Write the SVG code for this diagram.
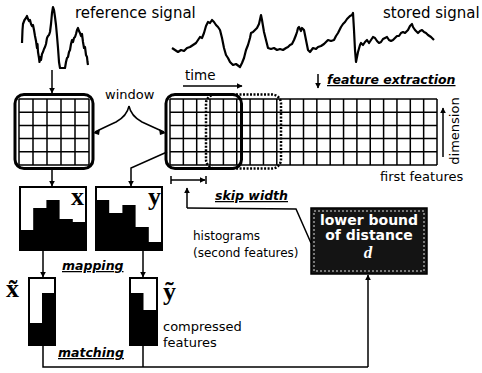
<svg xmlns="http://www.w3.org/2000/svg" width="482" height="373" viewBox="0 0 482 373">
<defs>
<marker id="ah" viewBox="0 0 10 10" refX="9" refY="5" markerWidth="6" markerHeight="6" markerUnits="userSpaceOnUse" orient="auto"><path d="M0,0 L10,5 L0,10 z" fill="#000"/></marker>
<style>
.t{font-family:"DejaVu Sans",Verdana,sans-serif;fill:#000}
.b{font-family:"DejaVu Sans",Verdana,sans-serif;font-weight:bold;font-style:italic;font-size:12.5px;text-decoration:underline;fill:#000}
.ln{fill:none;stroke:#000;stroke-width:1.5}
.ar{fill:none;stroke:#000;stroke-width:1.5;marker-end:url(#ah)}
.sig{fill:none;stroke:#000;stroke-width:2.2;stroke-linejoin:round}
.grid{fill:none;stroke:#000;stroke-width:1.5}
.win{fill:none;stroke:#000;stroke-width:3}
.box{fill:#fff;stroke:#000;stroke-width:2}
.blk{fill:#000}
.let{font-family:"Liberation Serif","Times New Roman",serif;font-weight:bold;fill:#000}
.wt{font-family:"DejaVu Sans",Verdana,sans-serif;font-weight:bold;fill:#fff}
</style>
</defs>
<rect width="482" height="373" fill="#fff"/>

<g id="reference-signal">
<path class="sig" d="M22,43 L22.5,30 23,24 24.5,20 26,18 27,16 28,19 29,21 30,20 31,24 32,26 33,25 34,30 35,36 36,41 37,48 37.5,44 38,52 39,58 39.5,62 40,57 41,60 42,54 43,52 44,49 45,47 46,44 47,38 48,36 49,35 50,32 51,24 52,13 53,7 54,10 55,17 56,25 57,36 58,48 58.5,55 59,62 60,68 62,68 65,68 66,62 67,58 68,57 69,52 70,50 71,44 72,40 73,42 74,38 75,37 76,34 77,30 78,28 79,31 80,33 81,36 82,34 83,42 84,48 85,47 86,55 87,57 87.5,62 88,65"/>
<text class="t" x="75" y="18" font-size="15">reference signal</text>
</g>

<g id="stored-signal">
<path class="sig" d="M172,48 L175,50 178,52 181,50 184,51 187,48 190,47 193,45 196,43 198,40 200,37 202,38 204,33 206,26 208,22 210,23 212,20 214,22 216,25 218,27 220,30 222,38 224,48 226,55 228,58 230,62 233,65 236,64 240,67 242,63 244,58 246,50 248,45 250,38 251,33 253,32 255,30 257,28 259,24 261,15 262,20 264,32 266,40 268,48 271,49 274,48 277,50 280,49 283,50 286,48 288,47 290,45 292,44 294,40 296,35 297,32 298,28 299,27 301,31 302,28 304,30 306,40 308,50 310,52 313,48 316,49 318,47 321,46 324,44 326,42 328,40 331,41 334,40 336,36 338,33 340,29 341,27 343,24 345,22 347,19 348,18 350,16 352,15 353,13 354,30 355,50 356,62 358,52 360,45 361,43 363,45 365,42 367,40 369,43 371,40 373,37 375,38 377,41 379,43 381,42 383,39 385,38 387,37 389,40 391,41 393,40 395,38 397,36 399,36 401,33 403,32 405,33 407,31 408,30 410,26 412,24 413,27 415,30 417,32 418,33 420,31 422,30 424,32 426,33 428,35 431,37 434,40"/>
<text class="t" x="383" y="18" font-size="15">stored signal</text>
</g>

<g id="left-window">
<path class="grid" d="M19,99 H89 M19,112.2 H89 M19,125.4 H89 M19,138.6 H89 M19,151.8 H89 M19,165 H89 M19,99 V165 M33,99 V165 M47,99 V165 M61,99 V165 M75,99 V165 M89,99 V165"/>
<rect class="win" x="15" y="94.5" width="78" height="74" rx="9"/>
</g>

<g id="first-features">
<path class="grid" d="M170,99 H437 M170,112.2 H437 M170,125.4 H437 M170,138.6 H437 M170,151.8 H437 M170,165 H437 M170,99 V165 M183.35,99 V165 M196.7,99 V165 M210.05,99 V165 M223.4,99 V165 M236.75,99 V165 M250.1,99 V165 M263.45,99 V165 M276.8,99 V165 M290.15,99 V165 M303.5,99 V165 M316.85,99 V165 M330.2,99 V165 M343.55,99 V165 M356.9,99 V165 M370.25,99 V165 M383.6,99 V165 M396.95,99 V165 M410.3,99 V165 M423.65,99 V165 M437,99 V165"/>
<rect class="win" x="166" y="94.5" width="75.5" height="74" rx="9"/>
<rect x="206" y="94.5" width="75" height="74" rx="9" fill="none" stroke="#000" stroke-width="2.5" stroke-dasharray="2,1.5"/>
<text class="t" x="380" y="181" font-size="13">first features</text>
<text class="t" x="0" y="0" font-size="13" transform="translate(459,131) rotate(-90)" text-anchor="middle">dimension</text>
</g>

<g id="labels">
<text class="t" x="185" y="80" font-size="13.5">time</text>
<text class="t" x="105" y="99" font-size="13">window</text>
<text class="b" x="327" y="84">feature extraction</text>
<text class="b" x="215" y="200">skip width</text>
<text class="t" x="193" y="240" font-size="12">histograms</text>
<text class="t" x="193" y="257" font-size="12">(second features)</text>
<text class="b" x="62" y="270">mapping</text>
<text class="t" x="163" y="331" font-size="13">compressed</text>
<text class="t" x="163" y="347" font-size="13">features</text>
<text class="b" x="58" y="357">matching</text>
</g>

<g id="histogram-x">
<rect class="box" x="20" y="187" width="66" height="63"/>
<path class="blk" d="M20,250 V230 H33.2 V208 H46.4 V200 H59.6 V219 H72.8 V222 H86 V250 z"/>
<text class="let" x="71" y="205" font-size="26">x</text>
</g>

<g id="histogram-y">
<rect class="box" x="96" y="187" width="66" height="63"/>
<path class="blk" d="M96,250 V200 H109.2 V213 H122.4 V205 H135.6 V227 H148.8 V242 H162 V250 z"/>
<text class="let" x="148" y="205" font-size="26">y</text>
</g>

<g id="compressed-x">
<rect class="box" x="29" y="278" width="26" height="67"/>
<path class="blk" d="M29,345 V323 H42 V293 H55 V345 z"/>
<text class="let" x="6" y="297" font-size="26">x̃</text>
</g>

<g id="compressed-y">
<rect class="box" x="130" y="278" width="27" height="67"/>
<path class="blk" d="M130,345 V293 H143.5 V310 H157 V345 z"/>
<text class="let" x="163" y="300" font-size="26">ỹ</text>
</g>

<g id="lower-bound">
<rect x="311" y="208" width="116" height="66" fill="#141414" stroke="#000" stroke-width="1.5"/>
<rect x="314" y="211" width="110" height="60" fill="none" stroke="#ddd" stroke-width="1" stroke-dasharray="2,2"/>
<text class="wt" x="369" y="225" font-size="14" text-anchor="middle">lower bound</text>
<text class="wt" x="369" y="240" font-size="14" text-anchor="middle">of distance</text>
<text x="368" y="258" font-size="17" text-anchor="middle" font-family="Liberation Serif,serif" font-style="italic" font-weight="bold" fill="#fff">d</text>
</g>

<g id="connectors">
<path class="ar" d="M52,70 V93"/>
<path class="ar" d="M52,168 V186"/>
<path class="ar" d="M167,152 L131,168 V186"/>
<path class="ar" d="M183,86 H242"/>
<path class="ar" d="M318,74 V88"/>
<path class="ar" d="M443,157 V108"/>
<path class="ln" d="M129,106 Q127,116 116,122 Q103,128 95,132"/>
<path class="ln" d="M129,106 Q131,116 142,122 Q155,128 164,132"/>
<path d="M93,133 L100,129 L99,135 z" fill="#000"/>
<path d="M166,133 L159,129 L160,135 z" fill="#000"/>
<path class="ln" d="M171,176 V184"/>
<path class="ar" d="M171,180 H205"/>
<path class="ln" d="M206,176 V184"/>
<path class="ar" d="M187,208 V188"/>
<path class="ln" d="M187,208 L296,209 L311,243"/>
<path class="ar" d="M43,250 V277"/>
<path class="ar" d="M143,250 V277"/>
<path class="ln" d="M43,345 V367 H368"/>
<path class="ln" d="M143,345 V367"/>
<path class="ar" d="M368,367 V275"/>
</g>
</svg>
